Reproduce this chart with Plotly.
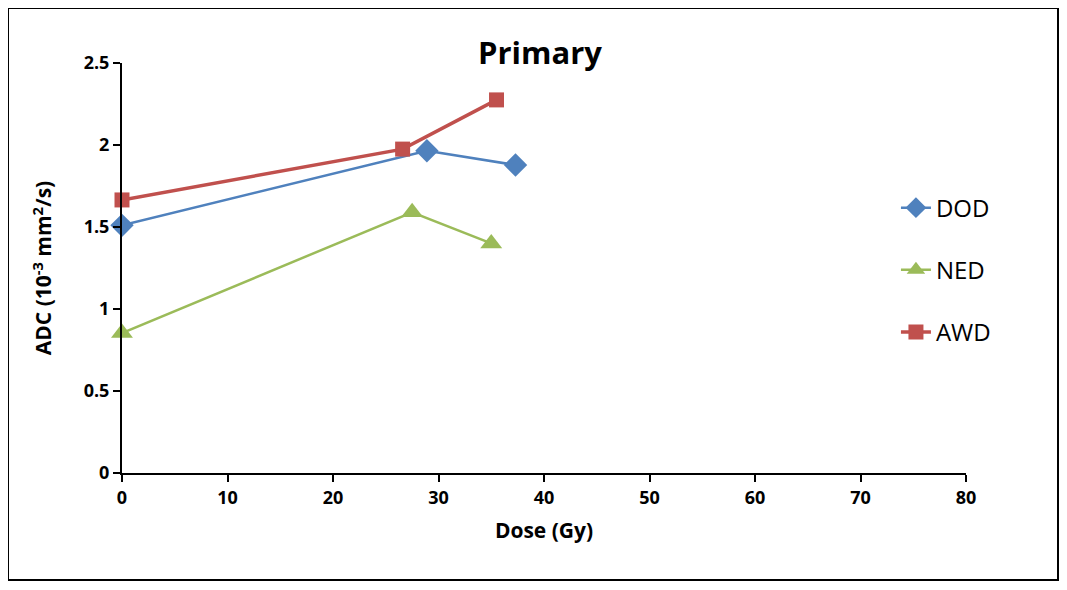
import plotly.graph_objects as go

dod_x = [0, 28.9, 37.3]
dod_y = [1.51, 1.965, 1.878]
ned_x = [0, 27.5, 35.0]
ned_y = [0.853, 1.59, 1.40]
awd_x = [0, 26.6, 35.5]
awd_y = [1.665, 1.975, 2.275]

x_ticks = [0, 10, 20, 30, 40, 50, 60, 70, 80]
y_ticks = [0, 0.5, 1, 1.5, 2, 2.5]
y_tick_text = ["0", "0.5", "1", "1.5", "2", "2.5"]

FONT = "Open Sans"

fig = go.Figure()
fig.add_trace(go.Scatter(x=dod_x, y=dod_y, name="DOD", mode="lines+markers", legendgroup="a",
                         cliponaxis=False,
                         line=dict(color="#4F81BD", width=2.5),
                         marker=dict(symbol="diamond", size=18, color="#4F81BD")))
fig.add_trace(go.Scatter(x=ned_x, y=ned_y, name="NED", mode="lines+markers", legendgroup="b",
                         cliponaxis=False,
                         line=dict(color="#9BBB59", width=2.5),
                         marker=dict(symbol="triangle-up", size=19, color="#9BBB59")))
fig.add_trace(go.Scatter(x=awd_x, y=awd_y, name="AWD", mode="lines+markers", legendgroup="c",
                         cliponaxis=False,
                         line=dict(color="#C0504D", width=3.5),
                         marker=dict(symbol="square", size=15, color="#C0504D")))

fig.update_layout(
    width=1059, height=582,
    margin=dict(l=114, r=101, t=55, b=117),
    paper_bgcolor="white", plot_bgcolor="white",
    font=dict(family=FONT, color="black"),
    title=dict(text="<b>Primary</b>", x=532 / 1059, xanchor="center", xref="container",
               y=1 - 45 / 582, yanchor="middle", yref="container",
               font=dict(size=31, family=FONT, color="black")),
    legend=dict(x=0.917, y=0.495, xanchor="left", yanchor="middle",
                font=dict(size=24, family=FONT), tracegroupgap=28,
                bgcolor="rgba(0,0,0,0)"),
    showlegend=True,
)
fig.update_xaxes(range=[0, 80], tickvals=x_ticks, showgrid=False, zeroline=False,
                 showline=True, linecolor="black", linewidth=2,
                 ticks="outside", ticklen=7, tickwidth=2, tickcolor="black",
                 tickfont=dict(size=18, family=FONT, color="black", weight="bold"),
                 title=dict(text="<b>Dose (Gy)</b>", font=dict(size=21, family=FONT), standoff=16))
fig.update_yaxes(range=[0, 2.5], tickvals=y_ticks, ticktext=y_tick_text, showgrid=False, zeroline=False,
                 showline=True, linecolor="black", linewidth=2,
                 ticks="outside", ticklen=7, tickwidth=2, tickcolor="black",
                 tickfont=dict(size=18, family=FONT, color="black", weight="bold"),
                 title=dict(text="<b>ADC (10<sup>-3</sup> mm<sup>2</sup>/s)</b>", font=dict(size=21, family=FONT), standoff=26))

fig.add_shape(type="rect", xref="paper", yref="paper",
              x0=(8 - 122) / 844, x1=(1058 - 122) / 844,
              y0=(473 - 580) / 410, y1=(473 - 8) / 410,
              line=dict(color="black", width=2), fillcolor="rgba(0,0,0,0)", layer="below")

fig.write_html("out.html")
